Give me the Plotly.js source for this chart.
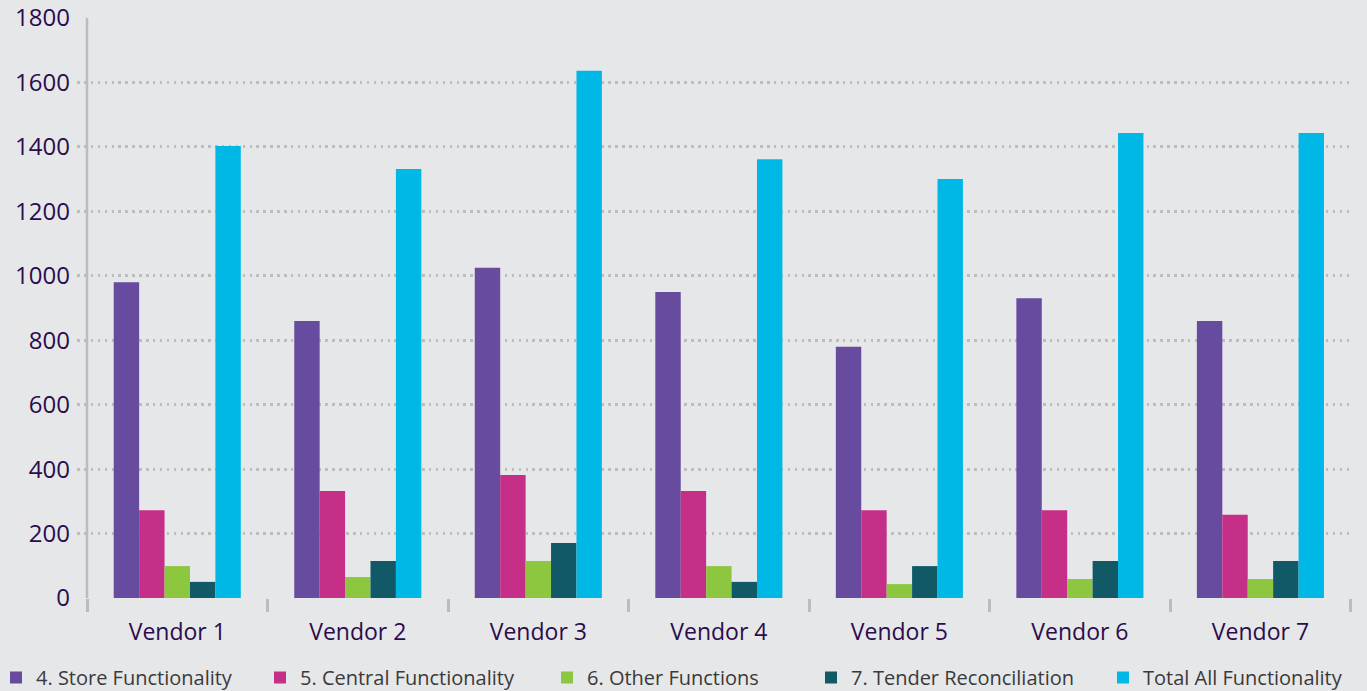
<!DOCTYPE html>
<html>
<head>
<meta charset="utf-8">
<script src="https://cdn.plot.ly/plotly-3.0.1.min.js"></script>
<style>
html,body{margin:0;padding:0;background:#e6e7e9;}
#chart{width:1367px;height:691px;}
</style>
</head>
<body>
<div id="chart"></div>
<script>
var vendors = ["Vendor 1","Vendor 2","Vendor 3","Vendor 4","Vendor 5","Vendor 6","Vendor 7"];
var storeFunctionality   = [980, 860, 1025, 950, 780, 930, 860];
var centralFunctionality = [272, 332, 382, 332, 272, 272, 258];
var otherFunctions       = [99, 65, 115, 99, 43, 59, 59];
var tenderReconciliation = [50, 115, 171, 50, 99, 115, 115];
var totalAllFunctionality= [1403, 1331, 1636, 1362, 1300, 1443, 1443];
var seriesNames = ["4. Store Functionality","5. Central Functionality","6. Other Functions","7. Tender Reconciliation","Total All Functionality"];
var seriesColors = ["#664b9f","#c52f87","#8dc63f","#125968","#00b8e6"];
var yTicks = [0,200,400,600,800,1000,1200,1400,1600,1800];

var seriesValues = [storeFunctionality, centralFunctionality, otherFunctions, tenderReconciliation, totalAllFunctionality];
var legendIds = ["legend","legend2","legend3","legend4","legend5"];
var legendX = [-4, 260, 547, 811, 1103];

var FONT = "Open Sans, sans-serif";
var traces = seriesValues.map(function(v,i){
  return {type:"bar", x:vendors, y:v, name:seriesNames[i], marker:{color:seriesColors[i]},
          legend:legendIds[i], hoverinfo:"x+y+name"};
});

var plotL = 77, plotR = 1353, plotT = 18, plotB = 598;
var plotW = plotR - plotL, plotH = plotB - plotT;
var catW = (1350.7 - 87) / 7;
var xStart = -0.5 - (87 - plotL)/catW;
var xEnd = xStart + plotW/catW;

var layout = {
  width:1367, height:691,
  paper_bgcolor:"#e6e7e9", plot_bgcolor:"#e6e7e9",
  margin:{l:plotL, r:1367-plotR, t:plotT, b:691-plotB, pad:0, autoexpand:false},
  barmode:"group", bargap:0.296, bargroupgap:0,
  font:{family:FONT, color:"#2b0c4c"},
  xaxis:{type:"category", range:[xStart, xEnd], showgrid:false, zeroline:false, showline:false,
         ticks:"outside", tickson:"boundaries", ticklen:13, tickwidth:2.5, tickcolor:"#bcbcbc",
         ticklabelstandoff:18, automargin:false,
         tickfont:{size:23, color:"#2b0c4c", family:FONT}, fixedrange:true},
  yaxis:{range:[0,1800], tickvals:yTicks, ticktext:yTicks.map(String), showgrid:true, gridcolor:"#bdbdbd",
         gridwidth:2.5, griddash:"2.5px,4.4px", zeroline:false, showline:false, ticks:"",
         ticklabelstandoff:6, automargin:false,
         tickfont:{size:24, color:"#2b0c4c", family:FONT}, fixedrange:true},
  shapes:[{type:"line", xref:"x", yref:"paper", x0:-0.5, x1:-0.5, y0:0, y1:1,
           line:{color:"#bcbcbc", width:2.5}, layer:"above"}],
  showlegend:true
};
legendIds.forEach(function(id,i){
  layout[id] = {orientation:"h", x:(legendX[i]-plotL)/plotW, xanchor:"left", y:(plotB-697)/plotH, yanchor:"bottom",
    bgcolor:"rgba(0,0,0,0)", font:{size:20, color:"#3a3a3a", family:FONT}, itemclick:false, itemdoubleclick:false};
});

Plotly.newPlot("chart", traces, layout, {displayModeBar:false, staticPlot:false});
</script>
</body>
</html>
